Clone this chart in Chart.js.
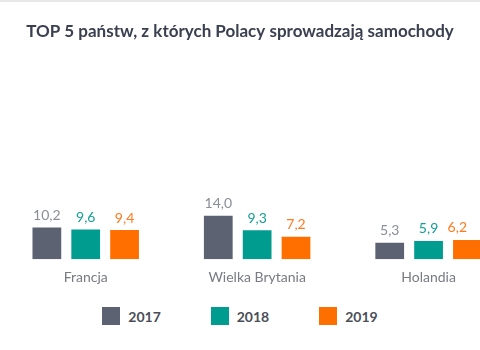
<!DOCTYPE html>
<html lang="pl">
<head>
<meta charset="utf-8">
<script src="https://cdn.jsdelivr.net/npm/chart.js@4"></script>
<style>
  body { margin: 0; background: #fff; font-family: Lato, "Open Sans", sans-serif; }
  #wrap { position: relative; width: 480px; height: 350px; overflow: hidden; border-top: 2px solid #e8e8e8; box-sizing: border-box; }
  #box { position: absolute; left: 0; top: 0; width: 480px; height: 300px; }
  #legenda { position: absolute; left: 0; top: 305px; width: 480px; display: flex; justify-content: center; gap: 50px; }
  #legenda span { display: flex; align-items: center; font-weight: bold; font-size: 14px; color: #4a4e58; }
  #legenda i { display: inline-block; width: 18px; height: 18px; margin-right: 8px; }
</style>
</head>
<body>
<div id="wrap">
  <div id="box"><canvas id="grafico"></canvas></div>
  <div id="legenda"></div>
</div>
<script>
const panstwa = ['Francja', 'Wielka Brytania', 'Holandia'];
const anni = ['2017', '2018', '2019'];
const v2017 = [10.2, 14.0, 5.3];
const v2018 = [9.6, 9.3, 5.9];
const v2019 = [9.4, 7.2, 6.2];

const coloriBarre = ['#5c6271', '#009c90', '#ff6f00'];
const coloriEtichette = ['#8a8e96', '#149e94', '#ff7a1f'];

const fmt = v => v.toFixed(1).replace('.', ',');

// etichette con i valori sopra le barre
const etichette = {
  id: 'etichette',
  afterDatasetsDraw(chart) {
    const ctx = chart.ctx;
    ctx.save();
    ctx.font = '14px Lato, sans-serif';
    ctx.textAlign = 'center';
    ctx.textBaseline = 'bottom';
    chart.data.datasets.forEach((ds, i) => {
      ctx.fillStyle = coloriEtichette[i];
      chart.getDatasetMeta(i).data.forEach((bar, j) => {
        const testo = fmt(ds.data[j].y);
        const w = ctx.measureText(testo).width;
        const x = Math.min(bar.x, chart.width - w / 2 - 13);
        ctx.fillText(testo, x, bar.y - 5);
      });
    });
    ctx.restore();
  }
};

const serie = [v2017, v2018, v2019];

const chart = new Chart(document.getElementById('grafico'), {
  type: 'bar',
  data: {
    datasets: serie.map((valori, i) => ({
      label: anni[i],
      data: valori.map((v, j) => ({ x: j, y: v })),
      backgroundColor: coloriBarre[i],
      categoryPercentage: 0.68,
      barPercentage: 0.74
    }))
  },
  options: {
    responsive: true,
    maintainAspectRatio: false,
    animation: false,
    layout: { padding: { left: 0, right: 0, top: 0, bottom: 6 } },
    plugins: {
      legend: { display: false },
      tooltip: { enabled: false },
      title: {
        display: true,
        text: 'TOP 5 państw, z których Polacy sprowadzają samochody',
        color: '#3b4050',
        font: { family: 'Lato, sans-serif', size: 17, weight: 'bold' },
        padding: { top: 19, bottom: 16 }
      }
    },
    scales: {
      x: {
        type: 'linear',
        offset: false,
        min: -0.5,
        max: 2.3,
        afterBuildTicks: axis => { axis.ticks = panstwa.map((p, i) => ({ value: i })); },
        grid: { display: false, drawTicks: false },
        border: { display: false },
        ticks: {
          callback: v => panstwa[v],
          color: '#777b82',
          font: { family: 'Lato, sans-serif', size: 14 },
          padding: 10,
          maxRotation: 0,
          autoSkip: false
        }
      },
      y: {
        display: false,
        min: 0,
        max: 65
      }
    }
  },
  plugins: [etichette]
});

// legenda HTML
document.getElementById('legenda').innerHTML = anni
  .map((a, i) => `<span><i style="background:${coloriBarre[i]}"></i>${a}</span>`)
  .join('');
</script>
</body>
</html>
